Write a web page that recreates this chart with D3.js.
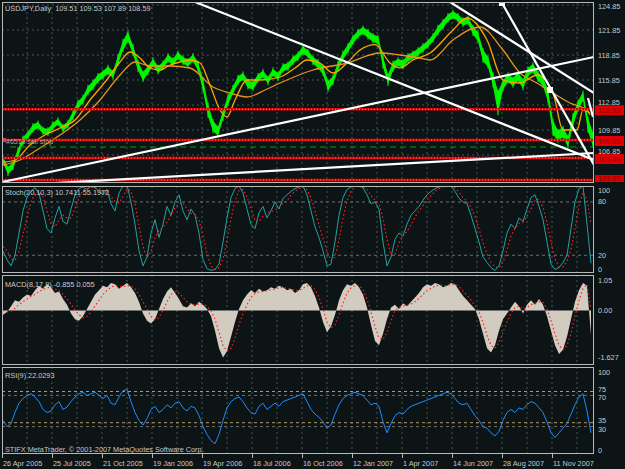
<!DOCTYPE html>
<html><head><meta charset="utf-8">
<script src="https://cdn.jsdelivr.net/npm/d3@7"></script>
<style>
body{margin:0;background:#0c1416;}
svg{display:block;font-family:"Liberation Sans",Arial,sans-serif;}
</style></head><body>
<script>
// price band, one sample every 5 bars
var priceLow = [105.9,104.5,105.2,106.7,108.2,108.9,109.7,110.1,109.4,109.3,110.0,110.5,109.7,110.2,111.2,112.4,113.1,114.2,114.8,115.6,116.1,116.6,116.1,117.7,119.4,120.5,118.9,117.0,115.8,116.6,117.6,116.7,117.2,118.1,117.6,118.4,117.8,117.5,118.1,117.0,114.6,111.5,109.7,109.2,111.1,112.9,114.2,115.4,115.9,114.9,114.7,115.7,116.2,115.4,116.4,115.9,116.9,117.1,117.8,118.3,119.0,118.6,117.8,117.3,116.5,114.6,115.4,117.0,118.3,119.2,120.2,121.0,121.4,120.9,120.4,120.2,117.4,115.3,117.0,117.6,117.3,118.1,118.4,118.8,119.3,119.8,120.5,121.4,122.1,122.9,123.3,122.9,122.4,122.6,121.3,120.5,118.1,117.4,115.1,111.8,114.7,115.6,115.1,115.8,114.8,116.3,116.8,115.8,115.1,113.2,109.3,108.5,109.0,107.8,110.4,112.2,113.4,109.7,107.9];
var priceHigh = [106.6,105.4,106.0,107.6,109.0,109.6,110.5,110.8,110.1,110.0,110.7,111.2,110.4,110.9,112.1,113.3,113.9,115.1,115.7,116.5,116.9,117.5,116.9,118.8,120.6,121.6,120.0,118.1,116.8,117.5,118.4,117.5,118.0,118.9,118.4,119.2,118.6,118.3,118.9,118.0,116.0,113.0,111.0,110.2,112.2,114.0,115.1,116.3,116.7,115.8,115.6,116.5,117.0,116.2,117.2,116.7,117.7,117.9,118.6,119.1,119.9,119.4,118.6,118.2,117.5,115.7,116.3,118.0,119.2,120.1,121.1,121.8,122.2,121.8,121.3,121.1,118.7,116.5,118.0,118.4,118.2,118.9,119.2,119.6,120.1,120.6,121.3,122.3,123.0,123.7,124.1,123.7,123.2,123.4,122.3,121.6,119.5,118.6,116.6,114.5,115.8,116.6,116.1,116.8,115.9,117.3,117.8,116.8,116.2,114.7,111.0,109.8,110.2,109.1,111.7,113.3,114.4,111.3,109.5];
// moving averages as [bar, price]
var maFast = [[1,106.0],[13,106.25],[28,108.05],[43,109.25],[58,110.09],[73,111.05],[88,113.45],[103,115.61],[118,118.01],[128,119.21],[138,118.49],[148,117.29],[158,117.05],[168,117.65],[178,118.01],[188,118.25],[198,117.89],[208,115.25],[218,112.25],[225,111.41],[233,113.45],[245,115.85],[258,115.85],[278,116.21],[293,117.29],[305,118.25],[318,117.89],[331,116.69],[345,117.89],[358,119.45],[373,120.1],[388,117.9],[398,117.3],[411,118.25],[428,119.09],[451,121.85],[465,123.29],[485,120.65],[501,115.85],[518,115.49],[535,116.45],[551,114.29],[561,109.85],[575,109.85],[581,112.25],[588,111.89]];
var maSlow = [[1,105.65],[18,106.25],[38,107.69],[58,109.25],[78,111.05],[98,113.45],[118,116.45],[133,118.01],[148,117.53],[168,117.53],[188,117.29],[211,115.01],[228,114.29],[245,113.81],[263,114.65],[278,115.49],[311,117.05],[345,117.89],[378,119.09],[398,118.85],[418,118.49],[428,118.25],[451,120.65],[478,122.21],[501,119.45],[518,116.69],[535,115.49],[551,114.29],[568,113.09],[585,112.25],[588,111.65]];
// indicators, one sample every 4 bars (148 samples)
var stochK = [25,15,8,20,45,70,85,92,96,90,70,50,45,62,75,58,55,72,88,95,97,94,98,96,92,88,94,78,70,90,98,99,80,55,25,8,18,45,60,40,55,75,65,80,88,70,60,72,65,45,15,5,3,4,10,35,62,85,95,98,90,72,55,50,68,75,62,70,80,72,84,88,92,95,97,98,88,70,52,40,25,8,10,35,65,85,94,97,99,98,96,88,78,80,72,35,8,18,38,45,42,55,65,70,75,82,88,92,95,97,98,99,98,92,84,80,78,65,50,35,18,12,6,3,8,25,45,55,50,62,58,72,85,88,75,60,35,10,4,6,12,20,50,80,95,98,55,11];
var stochD = [30,25,16,14,24,44,62,80,90,92,86,70,55,52,60,65,62,62,72,85,93,95,96,96,95,92,91,86,80,79,86,95,92,78,53,30,17,24,40,48,52,57,65,73,78,79,72,67,66,60,42,22,8,4,6,16,36,61,81,93,94,86,72,59,58,64,68,69,71,74,79,81,88,92,95,97,94,85,70,54,39,24,14,18,37,62,81,92,97,98,97,94,87,82,77,62,38,20,21,34,42,47,54,63,70,76,82,87,92,95,97,98,98,96,91,85,81,74,64,50,34,22,12,7,6,12,26,42,50,56,57,64,72,82,83,74,57,35,16,7,7,13,27,50,75,91,83,55];
var macdHist = [-0.15,-0.05,0.15,0.35,0.3,0.45,0.55,0.5,0.7,0.85,0.75,0.9,0.8,0.6,0.65,0.4,0.2,-0.1,-0.3,-0.35,-0.2,0.05,0.3,0.55,0.7,0.85,0.8,0.95,0.9,0.75,0.85,0.95,0.8,0.6,0.3,-0.1,-0.35,-0.45,-0.3,0.05,0.4,0.65,0.8,0.6,0.4,0.15,0.1,0.25,0.15,0.3,0.2,0.05,-0.2,-0.7,-1.3,-1.62,-1.4,-0.9,-0.4,0.05,0.35,0.55,0.7,0.6,0.75,0.65,0.7,0.8,0.75,0.85,0.8,0.7,0.75,0.6,0.7,0.9,0.95,0.8,0.5,0.1,-0.4,-0.75,-0.55,-0.15,0.35,0.7,0.9,0.85,0.95,0.8,0.55,0.1,-0.5,-1.05,-1.2,
    -0.8,-0.3,0.1,0.2,0.05,0.25,0.15,0.3,0.45,0.6,0.8,0.9,0.85,0.95,0.9,0.8,0.85,0.95,0.9,0.7,0.5,0.35,0.2,0.05,-0.3,-0.8,-1.3,-1.45,-1.2,-0.7,-0.3,-0.1,0.1,0.3,0.15,-0.1,0.2,0.35,0.2,0.4,0.2,-0.2,-0.7,-1.2,-1.5,-1.35,-0.9,-0.3,0.3,0.7,0.95,0.85,-0.855];
var macdSignal = [0.0,-0.05,-0.02,0.08,0.2,0.3,0.4,0.48,0.55,0.65,0.72,0.78,0.8,0.74,0.68,0.56,0.4,0.22,0.02,-0.15,-0.25,-0.2,-0.05,0.15,0.35,0.55,0.7,0.8,0.86,0.84,0.82,0.86,0.84,0.74,0.55,0.3,0.05,-0.2,-0.32,-0.25,0.0,0.3,0.55,0.65,0.6,0.45,0.3,0.22,0.2,0.22,0.22,0.15,0.0,-0.3,-0.75,-1.2,-1.4,-1.3,-0.95,-0.5,-0.1,0.2,0.45,0.58,0.65,0.66,0.68,0.72,0.74,0.78,0.8,0.76,0.74,0.7,0.68,0.76,0.85,0.86,0.72,0.45,0.05,-0.4,-0.6,-0.5,-0.15,0.25,0.6,0.78,0.86,0.86,0.72,0.4,-0.05,-0.55,-0.95,
    -1.0,-0.75,-0.35,0.0,0.1,0.15,0.18,0.22,0.3,0.42,0.56,0.68,0.76,0.84,0.88,0.86,0.86,0.9,0.9,0.82,0.68,0.52,0.36,0.18,-0.05,-0.4,-0.85,-1.2,-1.3,-1.1,-0.75,-0.4,-0.1,0.1,0.15,0.05,0.1,0.2,0.25,0.3,0.28,0.05,-0.35,-0.8,-1.2,-1.35,-1.2,-0.8,-0.2,0.35,0.75,0.9,0.055];
var rsiVals = [38,30,34,48,60,66,70,72,68,62,52,48,50,58,62,52,55,62,68,72,74,70,72,74,70,66,70,60,58,68,76,78,62,48,38,32,40,52,56,48,52,58,54,60,62,54,50,56,54,44,30,20,12,8,20,38,54,62,66,68,62,54,48,46,56,60,52,56,60,56,62,64,66,68,70,72,62,52,46,42,36,28,32,46,58,66,70,72,74,72,70,64,58,60,56,36,22,34,44,48,46,52,56,58,60,62,64,66,68,70,72,74,72,66,60,58,60,52,44,38,30,28,22,18,24,38,48,52,48,54,52,58,62,60,54,48,36,22,16,22,28,34,46,58,68,72,50,22];
var dateLabels = ["26 Apr 2005","25 Jul 2005","21 Oct 2005","19 Jan 2006","19 Apr 2006","18 Jul 2006","16 Oct 2006","12 Jan 2007","1 Apr 2007","14 Jun 2007","28 Aug 2007","11 Nov 2007"];
var priceTicks = [124.85,121.85,118.85,115.85,112.85,109.85,106.85,103.85];
var redLevels = [112.33,108.65,106.49,103.85];
var sellStop = 107.81;
// trend lines [bar1, price1, bar2, price2]
var trendLines = [[0,103.61,592,118.61],[193,125.21,592,106.25],[0,103.13,592,107.09],[448,125.21,592,114.29],[500,125.09,592,105.65],[586,113.69,591,111.41]];
var anchors = [[500,125.09],[548,114.65]];

var W = 625, H = 469, L = 2, R = 594;
var bg = "#0c1416", gridC = "#4d5656", txtC = "#c8c8c8";
var panes = {main:[2,183], stoch:[186,273], macd:[275,365], rsi:[367,454]};

var svg = d3.select("body").append("svg").attr("width", W).attr("height", H);
svg.append("rect").attr("width", W).attr("height", H).attr("fill", bg);

var x = d3.scaleLinear().domain([0, 592]).range([L, R]);
var yP = d3.scaleLinear().domain([124.85, 103.85]).range([5, 180]);
var yS = d3.scaleLinear().domain([100, 0]).range([184.2, 273]);
var yM = d3.scaleLinear().domain([1.05, 0]).range([280, 310.5]);
var yR = d3.scaleLinear().domain([100, 0]).range([372, 450]);
// indicator sample index -> bar
function ib(arr) { return d3.scaleLinear().domain([0, arr.length - 1]).range([1, 589]); }

var defs = svg.append("defs");
Object.keys(panes).forEach(function(k) {
    defs.append("clipPath").attr("id", "clip-" + k).append("rect")
        .attr("x", L).attr("y", panes[k][0]).attr("width", R - L).attr("height", panes[k][1] - panes[k][0]);
});
function pane(k) { return svg.append("g").attr("clip-path", "url(#clip-" + k + ")"); }

// vertical grid in all panes
Object.keys(panes).forEach(function(k) {
    pane(k).selectAll("line").data(d3.range(25, 592, 25)).enter().append("line")
        .attr("x1", function(d) { return x(d); }).attr("x2", function(d) { return x(d); })
        .attr("y1", panes[k][0]).attr("y2", panes[k][1])
        .attr("stroke", gridC).attr("stroke-dasharray", "2,3");
});

// ---- main pane
var gm = pane("main");
gm.selectAll(".hg").data(priceTicks).enter().append("line")
    .attr("x1", L).attr("x2", R).attr("y1", function(d) { return yP(d); }).attr("y2", function(d) { return yP(d); })
    .attr("stroke", gridC).attr("stroke-dasharray", "2,3");

var area = d3.area().x(function(d, i) { return x(1 + i * 5); })
    .y0(function(d) { return yP(d[0]); }).y1(function(d) { return yP(d[1]); });
var band = priceLow.map(function(v, i) { return [v, priceHigh[i]]; });
gm.append("path").datum(band).attr("d", area).attr("fill", "#00f000");
gm.selectAll(".bar").data(band).enter().append("line")
    .attr("x1", function(d, i) { return x(1 + i * 5); }).attr("x2", function(d, i) { return x(1 + i * 5); })
    .attr("y1", function(d) { return yP(d[0]) + 1.5; }).attr("y2", function(d) { return yP(d[1]) - 1.5; })
    .attr("stroke", "#00ff00").attr("stroke-width", 1);

var maLine = d3.line().x(function(d) { return x(d[0]); }).y(function(d) { return yP(d[1]); }).curve(d3.curveMonotoneX);
gm.append("path").datum(maSlow).attr("d", maLine).attr("fill", "none").attr("stroke", "#e6951c").attr("stroke-width", 1.3);
gm.append("path").datum(maFast).attr("d", maLine).attr("fill", "none").attr("stroke", "#ffa500").attr("stroke-width", 1.3);

gm.selectAll(".red").data(redLevels).enter().append("line")
    .attr("x1", L).attr("x2", R).attr("y1", function(d) { return yP(d); }).attr("y2", function(d) { return yP(d); })
    .attr("stroke", "#e00000").attr("stroke-width", 2.5);
gm.selectAll(".redd").data(redLevels).enter().append("line")
    .attr("x1", L).attr("x2", R).attr("y1", function(d) { return yP(d); }).attr("y2", function(d) { return yP(d); })
    .attr("stroke", "#ff8080").attr("stroke-width", 1).attr("stroke-dasharray", "1,2");
gm.append("line").attr("x1", x(8)).attr("x2", R).attr("y1", yP(sellStop)).attr("y2", yP(sellStop))
    .attr("stroke", "#00a000").attr("stroke-dasharray", "6,4");
gm.append("text").attr("x", 6).attr("y", yP(sellStop) - 3).attr("fill", "#a8a8a8").attr("font-size", 7).text("#6513 sell stop");
gm.append("rect").attr("x", 2).attr("y", yP(108.65) - 2).attr("width", 4).attr("height", 4).attr("fill", "#ff3030");

gm.selectAll(".tl").data(trendLines).enter().append("line")
    .attr("x1", function(d) { return x(d[0]); }).attr("y1", function(d) { return yP(d[1]); })
    .attr("x2", function(d) { return x(d[2]); }).attr("y2", function(d) { return yP(d[3]); })
    .attr("stroke", "#ffffff").attr("stroke-width", 2.2);
gm.selectAll(".an").data(anchors).enter().append("rect")
    .attr("x", function(d) { return x(d[0]) - 3; }).attr("y", function(d) { return yP(d[1]) - 3; })
    .attr("width", 6).attr("height", 6).attr("fill", "#ffffff");

// ---- stochastic
var gs = pane("stoch");
gs.selectAll("line.lv").data([80, 20]).enter().append("line")
    .attr("x1", L).attr("x2", R).attr("y1", function(d) { return yS(d); }).attr("y2", function(d) { return yS(d); })
    .attr("stroke", "#707070").attr("stroke-dasharray", "3,3");
var sLine = function(arr, y) { var b = ib(arr); return d3.line().x(function(d, i) { return x(b(i)); }).y(function(d) { return y(d); })(arr); };
gs.append("path").attr("d", sLine(stochK, yS)).attr("fill", "none").attr("stroke", "#22a3a0").attr("stroke-width", 1);
gs.append("path").attr("d", sLine(stochD, yS)).attr("fill", "none").attr("stroke", "#ff2020").attr("stroke-width", 1.2).attr("stroke-dasharray", "1.5,2.5");

// ---- macd
var gc = pane("macd");
var hb = ib(macdHist);
var hArea = d3.area().x(function(d, i) { return x(hb(i)); }).y0(yM(0)).y1(function(d) { return yM(d); });
gc.append("path").datum(macdHist).attr("d", hArea).attr("fill", "#d2cbc0");
gc.append("path").attr("d", sLine(macdSignal, yM)).attr("fill", "none").attr("stroke", "#ff2020").attr("stroke-width", 1.2).attr("stroke-dasharray", "1.5,2.5");

// ---- rsi
var gr = pane("rsi");
gr.selectAll("line.lv").data([[75, "#b89a60"], [70, "#707070"], [35, "#b89a60"], [30, "#707070"]]).enter().append("line")
    .attr("x1", L).attr("x2", R).attr("y1", function(d) { return yR(d[0]); }).attr("y2", function(d) { return yR(d[0]); })
    .attr("stroke", function(d) { return d[1]; }).attr("stroke-dasharray", "3,3");
gr.append("path").attr("d", sLine(rsiVals, yR)).attr("fill", "none").attr("stroke", "#1e8cff").attr("stroke-width", 1);

// ---- frames
Object.keys(panes).forEach(function(k) {
    svg.append("rect").attr("x", L + 0.5).attr("y", panes[k][0] + 0.5).attr("width", R - L - 1).attr("height", panes[k][1] - panes[k][0] - 1)
        .attr("fill", "none").attr("stroke", "#b8b8b8").attr("stroke-width", 1);
});

// ---- right axis labels
function clampY(v, k) { return Math.max(panes[k][0] + 4, Math.min(panes[k][1] - 4, v)); }
function axisText(vals, y, k, fmt, nudge) {
    svg.selectAll(null).data(vals).enter().append("text")
        .attr("x", 598).attr("y", function(d, i) { return clampY(y(d), k) + 2.5 + (nudge ? nudge[i] : 0); })
        .attr("fill", txtC).attr("font-size", 7.3).text(fmt);
}
// price ticks sitting under a red level box are lifted a little
axisText(priceTicks, yP, "main", function(d) { return d.toFixed(2); }, [0, 0, 0, 0, -2.5, 0, -4, 0]);
svg.selectAll(".rl").data(redLevels).enter().append("rect")
    .attr("x", 595).attr("y", function(d) { return Math.min(yP(d) - 4, panes.main[1] - 8); })
    .attr("width", 29).attr("height", function(d) { return yP(d) > 175 ? 7 : 10; }).attr("fill", "#e00000");
svg.selectAll(".rt").data(redLevels).enter().append("text")
    .attr("x", 598).attr("y", function(d) { return Math.min(yP(d) + 1.5, panes.main[1] - 5) + 2.5; })
    .attr("fill", "#8a0000").attr("font-size", 7.3).text(function(d) { return d.toFixed(2); });
axisText([100, 80, 20, 0], yS, "stoch", function(d) { return d; });
axisText([1.05, 0, -1.627], yM, "macd", function(d) { return d === 0 ? "0.00" : String(d); });
axisText([100, 75, 70, 35, 30, 0], yR, "rsi", function(d) { return d; }, [0, -2, 2.5, -2, 2.5, 0]);

// ---- date axis
svg.selectAll(".tk").data(dateLabels).enter().append("line")
    .attr("x1", function(d, i) { return x(i * 50) + 0.5; }).attr("x2", function(d, i) { return x(i * 50) + 0.5; })
    .attr("y1", 454).attr("y2", 458).attr("stroke", "#b8b8b8");
svg.selectAll(".dl").data(dateLabels).enter().append("text")
    .attr("x", function(d, i) { return x(i * 50) + 1; }).attr("y", 465.5)
    .attr("fill", txtC).attr("font-size", 7.3).text(function(d) { return d; });

// ---- pane captions
var cap = [["USDJPY,Daily  109.51 109.53 107.89 108.59", 10.5], ["Stoch(20,10,3) 10.7411 55.1972", 194.5],
    ["MACD(8,17,9) -0.855 0.055", 286.5], ["RSI(9) 22.0293", 377.5], ["STIFX MetaTrader, \u00a9 2001-2007 MetaQuotes Software Corp.", 451.5]];
svg.selectAll(".cap").data(cap).enter().append("text")
    .attr("x", 5).attr("y", function(d) { return d[1]; })
    .attr("fill", txtC).attr("font-size", 7.3).attr("xml:space", "preserve").style("white-space", "pre")
    .text(function(d) { return d[0]; });
</script></body></html>
